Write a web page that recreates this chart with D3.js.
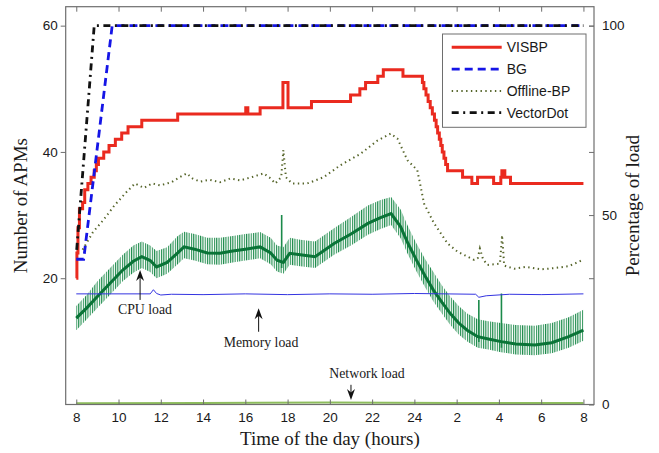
<!DOCTYPE html>
<html>
<head>
<meta charset="utf-8">
<script src="https://cdn.jsdelivr.net/npm/d3@7"></script>
<style>
  body { margin: 0; background: #fff; }
  svg { display: block; }
</style>
</head>
<body>
<svg id="chart" width="659" height="453"></svg>
<script>
// ---- data -------------------------------------------------------------
// time axis (hours since midnight of day 1; 24+ means next day)
const hourTicks  = [8, 10, 12, 14, 16, 18, 20, 22, 24, 26, 28, 30, 32];
const hourLabels = ["8", "10", "12", "14", "16", "18", "20", "22", "24", "2", "4", "6", "8"];
const apmTicks   = [20, 40, 60];
const loadTicks  = [0, 50, 100];

// number of APMs (left axis)
const visbpHours  = [8, 8.03, 8.08, 8.15, 8.3, 8.4, 8.55, 8.7, 8.85, 8.95, 9.05, 9.3, 9.55, 9.85, 10.15, 10.45,
                     11.1, 12.8, 16.02, 16.12, 16.7, 17.78, 18.02, 19.13, 20.98, 21.42, 21.69, 22.27, 22.53, 23.46,
                     24.38, 24.45, 24.55, 24.65, 24.75, 24.85, 24.95, 25.03, 25.1, 25.18, 25.25, 25.32, 25.4, 25.48,
                     25.57, 26.28, 26.72, 26.99, 27.75, 28.09, 28.14, 28.28, 28.55, 32];
const visbpValues = [20, 24, 28, 31, 32, 34, 35, 36, 37, 38, 39, 40, 41, 42, 43, 44,
                     45, 46, 47, 46, 47, 51, 47, 48, 49, 50, 51, 52, 53, 52,
                     51, 50, 49, 48, 47, 46, 45, 44, 43, 42, 41, 40, 39, 38,
                     37, 36, 35, 36, 35, 36, 37, 36, 35, 35];

const bgHours  = [8, 8.35, 9.7, 32];
const bgValues = [23, 23, 60, 60];

const offlineHours  = [8.3, 8.79, 9.28, 9.8, 10.39, 10.78, 11.2, 11.6, 11.97, 12.5, 12.9, 13.23, 13.5, 13.86,
                       14.3, 14.8, 15.3, 15.76, 16.3, 16.87, 17.2, 17.42, 17.7, 17.8, 17.92, 18.21, 18.93, 19.71,
                       20.5, 21.45, 22.25, 22.88, 23.2, 23.67, 24.14, 24.46, 24.93, 25.57, 26.04, 26.83, 27.0,
                       27.1, 27.25, 27.46, 28.05, 28.15, 28.25, 28.73, 29.3, 30.0, 30.62, 31.3, 31.97];
const offlineValues = [24.5, 27.3, 29.2, 31.5, 33.7, 35.0, 34.3, 35.0, 34.7, 35.2, 36.0, 36.6, 35.8, 35.3,
                       35.6, 35.2, 35.8, 35.5, 36.0, 36.6, 35.8, 35.0, 36.0, 40.3, 36.0, 35.0, 35.0, 36.0,
                       37.9, 39.7, 41.8, 42.9, 42.1, 38.7, 37.1, 31.8, 28.7, 25.5, 24.2, 22.9, 23.2,
                       24.7, 23.0, 22.1, 22.3, 26.8, 22.0, 21.5, 21.8, 21.4, 21.6, 21.9, 22.9];

const vectorDotHours  = [8.02, 8.85, 32];
const vectorDotValues = [24.5, 60, 60];

// percentage of load (right axis)
const cpuHours = [8, 8.5, 9, 9.6, 10.2, 10.7, 11.1, 11.5, 11.8, 12.3, 12.8, 13.1, 13.6, 14.2, 14.8, 15.4, 16.0,
                  16.7, 17.2, 17.5, 17.8, 18.1, 18.6, 19.3, 20.2, 21.0, 21.8, 22.4, 22.9, 23.35, 23.7, 24.1,
                  24.5, 24.9, 25.3, 25.7, 26.1, 26.5, 27.0, 27.5, 28.1, 28.8, 29.7, 30.5, 31.3, 32];
const cpuMid   = [22.8, 25.5, 28.5, 32.0, 35.5, 37.8, 39.0, 38.0, 36.3, 37.5, 40.0, 41.6, 41.0, 40.0, 39.9, 40.5, 41.0,
                  41.6, 40.0, 38.1, 37.5, 39.9, 39.5, 39.0, 42.5, 45.0, 47.8, 49.3, 50.4, 46.9, 42.5, 38.1,
                  34.0, 30.2, 27.0, 24.0, 21.5, 19.6, 17.9, 17.3, 16.6, 16.0, 15.7, 16.3, 17.9, 19.6];
const cpuHigh  = [26.0, 29.0, 32.5, 36.0, 39.5, 42.0, 43.0, 42.0, 40.5, 41.5, 44.5, 45.6, 45.0, 44.0, 44.0, 44.5, 45.0,
                  45.5, 44.0, 42.0, 41.5, 44.0, 43.5, 43.0, 46.5, 49.5, 52.5, 54.0, 54.8, 51.5, 47.0, 42.5,
                  38.5, 35.0, 31.5, 28.5, 26.0, 24.0, 22.5, 22.0, 21.5, 21.0, 20.8, 21.5, 23.0, 25.0];
const cpuLow   = [19.6, 22.5, 25.5, 29.0, 32.5, 34.8, 36.0, 35.0, 33.3, 34.5, 37.0, 38.6, 38.0, 37.0, 36.9, 37.5, 38.0,
                  38.6, 37.0, 35.1, 34.5, 36.9, 36.5, 36.0, 39.5, 42.0, 44.8, 46.3, 47.4, 43.9, 39.5, 35.1,
                  31.0, 27.2, 24.0, 21.0, 18.5, 16.6, 15.0, 14.5, 13.8, 13.2, 13.0, 13.5, 15.0, 16.8];
const cpuSpikeHours   = [17.72, 27.05, 28.12];
const cpuSpikeTops    = [50.0, 27.6, 29.3];
const cpuSpikeBottoms = [36.0, 16.5, 15.0];

const memHours  = [8, 11.5, 11.65, 11.8, 12.0, 12.5, 14, 16, 18, 20, 22, 24, 26.9, 27.05, 27.4, 28.5, 30, 32];
const memValues = [29.2, 29.2, 30.3, 29.3, 28.9, 29.1, 29.0, 29.2, 29.0, 29.2, 29.1, 29.3, 29.1, 28.3, 28.7, 29.1, 29.0, 29.2];

const netHours  = [8, 14, 20, 26, 32];
const netValues = [0.3, 0.4, 0.5, 0.4, 0.4];

// ---- layout ------------------------------------------------------------
const plot = { left: 65.7, right: 594, top: 6.7, bottom: 404.5 };
const svg = d3.select("#chart");

const x  = d3.scaleLinear().domain([7.5, 32.5]).range([plot.left, plot.right]);
const yL = d3.scaleLinear().domain([0, 63]).range([plot.bottom, plot.top]);
const yR = d3.scaleLinear().domain([0, 105]).range([plot.bottom, plot.top]);

const zip = (xs, ys) => xs.map((h, i) => [h, ys[i]]);

const defs = svg.append("defs");
defs.append("clipPath").attr("id", "plotClip")
  .append("rect").attr("x", plot.left).attr("y", plot.top)
  .attr("width", plot.right - plot.left).attr("height", plot.bottom - plot.top);

// fine vertical hatching used for the fast-oscillating CPU trace
const hatch = defs.append("pattern").attr("id", "cpuHatch")
  .attr("patternUnits", "userSpaceOnUse").attr("width", 2.3).attr("height", 20);
hatch.append("rect").attr("width", 2.3).attr("height", 20).attr("fill", "#ffffff");
hatch.append("rect").attr("width", 1.1).attr("height", 20).attr("fill", "#1f8c4d");

const g = svg.append("g").attr("clip-path", "url(#plotClip)");

// ---- load series (right axis) -------------------------------------------
const cpuArea = d3.area().x(d => x(d.h)).y0(d => yR(d.lo)).y1(d => yR(d.hi));
const cpuRows = cpuHours.map((h, i) => ({ h, lo: cpuLow[i], hi: cpuHigh[i], mid: cpuMid[i] }));
g.append("path").datum(cpuRows).attr("d", cpuArea).attr("fill", "url(#cpuHatch)");

g.selectAll("line.spike").data(cpuSpikeHours).enter().append("line")
  .attr("class", "spike")
  .attr("x1", d => x(d)).attr("x2", d => x(d))
  .attr("y1", (d, i) => yR(cpuSpikeBottoms[i])).attr("y2", (d, i) => yR(cpuSpikeTops[i]))
  .attr("stroke", "#1b8a4a").attr("stroke-width", 1.6);

g.append("path").datum(cpuRows)
  .attr("d", d3.line().x(d => x(d.h)).y(d => yR(d.mid)))
  .attr("fill", "none").attr("stroke", "#0a7437").attr("stroke-width", 3);

g.append("path").datum(zip(netHours, netValues))
  .attr("d", d3.line().x(d => x(d[0])).y(d => yR(d[1])))
  .attr("fill", "none").attr("stroke", "#8dbd5c").attr("stroke-width", 2);

g.append("path").datum(zip(memHours, memValues))
  .attr("d", d3.line().x(d => x(d[0])).y(d => yR(d[1])))
  .attr("fill", "none").attr("stroke", "#3434e0").attr("stroke-width", 1);

// ---- APM series (left axis) ------------------------------------------------
const lineL = d3.line().x(d => x(d[0])).y(d => yL(d[1]));

const series = [
  { name: "VISBP",      hours: visbpHours,     values: visbpValues,     color: "#ea2a1f", width: 3,   dash: null,          curve: d3.curveStepAfter },
  { name: "BG",         hours: bgHours,        values: bgValues,        color: "#1515e6", width: 2.8, dash: "8,5",         curve: d3.curveLinear },
  { name: "Offline-BP", hours: offlineHours,   values: offlineValues,   color: "#56652a", width: 2,   dash: "1.4,3.4",     curve: d3.curveLinear },
  { name: "VectorDot",  hours: vectorDotHours, values: vectorDotValues, color: "#111111", width: 2.8, dash: "7,4.5,2,4.5", curve: d3.curveLinear }
];

series.forEach(s => {
  g.append("path").datum(zip(s.hours, s.values))
    .attr("d", lineL.curve(s.curve))
    .attr("fill", "none").attr("stroke", s.color).attr("stroke-width", s.width)
    .attr("stroke-dasharray", s.dash);
});

// ---- axes ------------------------------------------------------------------
const axisColor = "#6e6e6e";
const tickFont = "'Liberation Sans', Arial, sans-serif";

function styleAxis(sel) {
  sel.select(".domain").remove();
  sel.selectAll(".tick line").attr("stroke", axisColor).attr("stroke-width", 1);
  sel.selectAll(".tick text").attr("fill", "#1a1a1a").style("font-family", tickFont).style("font-size", "13.5px");
}

svg.append("g").attr("transform", `translate(0,${plot.bottom})`)
  .call(d3.axisBottom(x).tickValues(hourTicks).tickSize(-5).tickPadding(8)
        .tickFormat((d, i) => hourLabels[i]))
  .call(styleAxis);

svg.append("g").attr("transform", `translate(0,${plot.top})`)
  .call(d3.axisTop(x).tickValues(hourTicks).tickSize(-5).tickFormat(""))
  .call(styleAxis);

svg.append("g").attr("transform", `translate(${plot.left},0)`)
  .call(d3.axisLeft(yL).tickValues(apmTicks).tickSize(5).tickPadding(3))
  .call(styleAxis);

svg.append("g").attr("transform", `translate(${plot.right},0)`)
  .call(d3.axisRight(yL).tickValues(apmTicks).tickSize(-5).tickFormat(""))
  .call(styleAxis);

svg.append("g").attr("transform", `translate(${plot.right},0)`)
  .call(d3.axisRight(yR).tickValues(loadTicks).tickSize(-5).tickPadding(8))
  .call(styleAxis);

svg.append("rect")
  .attr("x", plot.left).attr("y", plot.top)
  .attr("width", plot.right - plot.left).attr("height", plot.bottom - plot.top)
  .attr("fill", "none").attr("stroke", axisColor).attr("stroke-width", 1.2);

// axis titles
const serif = "'Liberation Serif', 'Times New Roman', serif";
svg.append("text")
  .attr("x", (plot.left + plot.right) / 2).attr("y", 445)
  .attr("text-anchor", "middle")
  .style("font-family", serif).style("font-size", "19px").attr("fill", "#1a1a1a")
  .text("Time of the day (hours)");

svg.append("text")
  .attr("transform", `translate(27,${(plot.top + plot.bottom) / 2}) rotate(-90)`)
  .attr("text-anchor", "middle")
  .style("font-family", serif).style("font-size", "19px").attr("fill", "#1a1a1a")
  .text("Number of APMs");

svg.append("text")
  .attr("transform", `translate(639,${(plot.top + plot.bottom) / 2}) rotate(-90)`)
  .attr("text-anchor", "middle")
  .style("font-family", serif).style("font-size", "19px").attr("fill", "#1a1a1a")
  .text("Percentage of load");

// ---- legend ------------------------------------------------------------------
const legend = svg.append("g");
legend.append("rect")
  .attr("x", 442.5).attr("y", 34).attr("width", 143.5).attr("height", 93.3)
  .attr("fill", "#fff").attr("stroke", axisColor).attr("stroke-width", 1);

series.forEach((s, i) => {
  const yy = 47.3 + i * 21.8;
  legend.append("line")
    .attr("x1", 451.7).attr("x2", 501.7).attr("y1", yy).attr("y2", yy)
    .attr("stroke", s.color).attr("stroke-width", s.width)
    .attr("stroke-dasharray", s.dash);
  legend.append("text")
    .attr("x", 506.7).attr("y", yy).attr("dy", "0.36em")
    .style("font-family", tickFont).style("font-size", "14px").attr("fill", "#1a1a1a")
    .text(s.name);
});

// ---- annotations -------------------------------------------------------------
function arrow(hour, fromPct, toPct) {
  const ax = x(hour), y0 = yR(fromPct), y1 = yR(toPct);
  const dir = Math.sign(y1 - y0);
  svg.append("line")
    .attr("x1", ax).attr("x2", ax).attr("y1", y0).attr("y2", y1 - dir * 4)
    .attr("stroke", "#111").attr("stroke-width", 1);
  svg.append("path")
    .attr("d", `M${ax},${y1} L${ax - 4},${y1 - dir * 11} L${ax},${y1 - dir * 7.5} L${ax + 4},${y1 - dir * 11} Z`)
    .attr("fill", "#111");
}

const noteFont = (sel) => sel.style("font-family", serif).style("font-size", "13.8px").attr("fill", "#1a1a1a").attr("text-anchor", "middle");

arrow(11.02, 27.6, 35.5);
svg.append("text").attr("x", 145).attr("y", 314).call(noteFont).text("CPU load");

arrow(16.63, 19.2, 25.4);
svg.append("text").attr("x", 261).attr("y", 347).call(noteFont).text("Memory load");

arrow(21.0, 5.2, 1.2);
svg.append("text").attr("x", 367).attr("y", 378).call(noteFont).text("Network load");
</script>
</body>
</html>
